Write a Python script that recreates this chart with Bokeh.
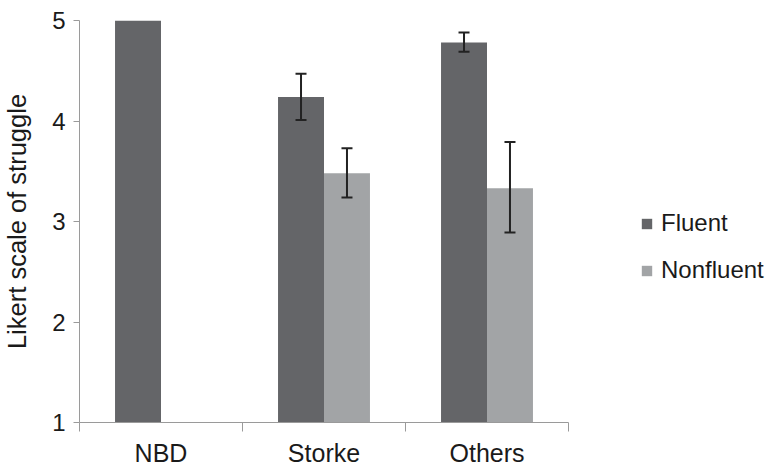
from bokeh.plotting import figure
from bokeh.models import (ColumnDataSource, Legend, LegendItem, Whisker, TeeHead,
                          FixedTicker, Range1d)
from bokeh.embed import file_html
from bokeh.resources import INLINE

categories = ["NBD", "Storke", "Others"]
fluent = [5.0, 4.24, 4.78]
fluent_lo = [None, 4.01, 4.69]
fluent_hi = [None, 4.47, 4.88]
nonfluent = [None, 3.48, 3.33]
nonfluent_lo = [None, 3.24, 2.89]
nonfluent_hi = [None, 3.73, 3.79]
y_ticks = [1, 2, 3, 4, 5]

FLUENT_C = "#646568"
NONFL_C = "#a2a4a6"
TEXT_C = "#1a1a1a"
AXIS_C = "#9a9a9a"
FONT = "Liberation Sans"
BW = 0.282
OFF = BW / 2

N = len(categories)
AXIS_PX = 489          # pixel length of the category axis
FRAME_W = 688          # frame extends right to hold the legend
x_end = N * FRAME_W / AXIS_PX

p = figure(frame_width=FRAME_W, frame_height=402, output_backend="svg", toolbar_location=None,
           x_range=Range1d(0, x_end), y_range=Range1d(1, 5),
           min_border_left=79, min_border_top=20, min_border_bottom=42, min_border_right=0)
p.outline_line_color = None
p.grid.grid_line_color = None
p.background_fill_color = "white"
p.border_fill_color = "white"

xs = [i + 0.5 for i in range(N)]

def bars(vals, lo, hi, off, color):
    x = [xx + off for xx, v in zip(xs, vals) if v is not None]
    top = [v for v in vals if v is not None]
    src = ColumnDataSource(dict(x=x, top=top))
    r = p.vbar(x="x", top="top", bottom=1, width=BW, source=src,
               fill_color=color, line_color=None)
    ex = [xx + off for xx, l in zip(xs, lo) if l is not None]
    el = [l for l in lo if l is not None]
    eh = [h for h in hi if h is not None]
    esrc = ColumnDataSource(dict(x=ex, lo=el, hi=eh))
    w = Whisker(base="x", lower="lo", upper="hi", source=esrc, level="overlay",
                line_color="#222222", line_width=2,
                upper_head=TeeHead(size=11, line_color="#222222", line_width=2),
                lower_head=TeeHead(size=11, line_color="#222222", line_width=2))
    p.add_layout(w)
    return r

r1 = bars(fluent, fluent_lo, fluent_hi, -OFF, FLUENT_C)
r2 = bars(nonfluent, nonfluent_lo, nonfluent_hi, OFF, NONFL_C)

# axes
p.yaxis.ticker = FixedTicker(ticks=y_ticks)
p.yaxis.axis_label = "Likert scale of struggle"
p.yaxis.axis_label_text_font = FONT
p.yaxis.axis_label_text_font_size = "25.5px"
p.yaxis.axis_label_text_font_style = "normal"
p.yaxis.axis_label_text_color = TEXT_C
p.yaxis.axis_label_standoff = 18
p.yaxis.major_label_text_font = FONT
p.yaxis.major_label_text_font_size = "24px"
p.yaxis.major_label_text_color = TEXT_C
p.yaxis.major_label_standoff = 8
p.yaxis.major_tick_in = 0
p.yaxis.major_tick_out = 6
p.yaxis.minor_tick_line_color = None
p.yaxis.axis_line_color = AXIS_C
p.yaxis.major_tick_line_color = AXIS_C

p.xaxis.bounds = (0, N)
p.xaxis.ticker = FixedTicker(ticks=xs, minor_ticks=list(range(N + 1)))
p.xaxis.major_label_overrides = {x: c for x, c in zip(xs, categories)}
p.xaxis.major_label_text_font = FONT
p.xaxis.major_label_text_font_size = "25px"
p.xaxis.major_label_text_color = TEXT_C
p.xaxis.major_label_standoff = 7
p.xaxis.major_tick_line_color = None
p.xaxis.major_tick_in = 0
p.xaxis.major_tick_out = 0
p.xaxis.minor_tick_in = 0
p.xaxis.minor_tick_out = 9
p.xaxis.minor_tick_line_color = AXIS_C
p.xaxis.axis_line_color = AXIS_C

legend = Legend(items=[LegendItem(label="Fluent", renderers=[r1]),
                       LegendItem(label="Nonfluent", renderers=[r2])],
                location=(AXIS_PX + 72, 138), orientation="vertical")
legend.border_line_color = None
legend.background_fill_alpha = 0
legend.padding = 0
legend.margin = 0
legend.glyph_width = 13
legend.glyph_height = 13
legend.label_height = 24
legend.spacing = 19
legend.label_standoff = 8
legend.label_text_font = FONT
legend.label_text_font_size = "24px"
legend.label_text_color = TEXT_C
p.add_layout(legend, "center")

open("out.html", "w").write(file_html(p, INLINE))
